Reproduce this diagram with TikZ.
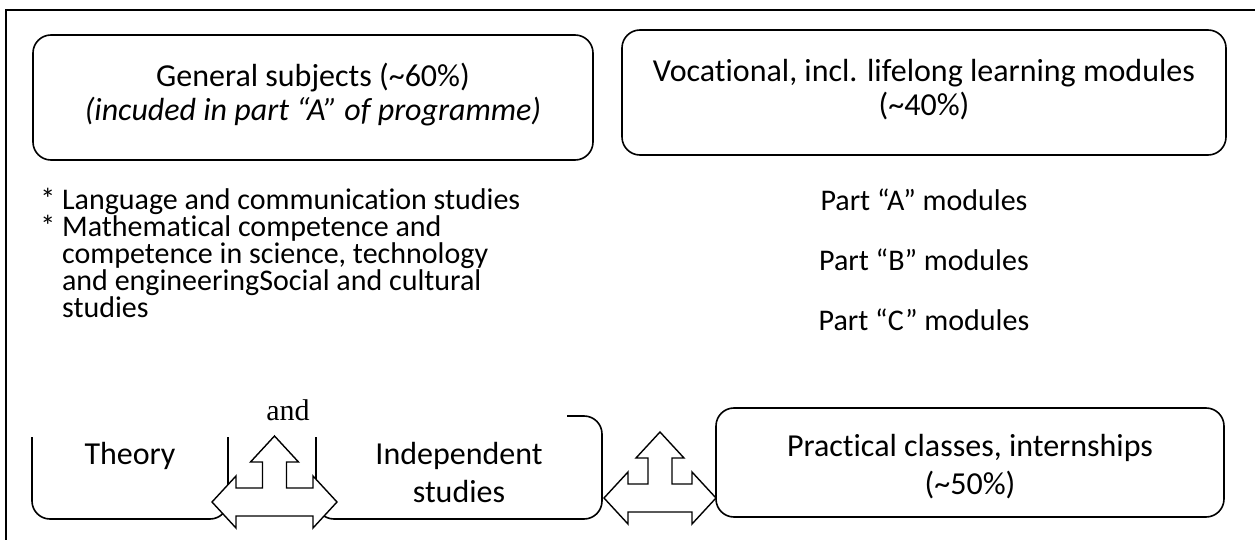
\documentclass[tikz,border=0pt]{standalone}
\usepackage{fontspec}
\setmainfont{Carlito}[Ligatures=NoCommon]
\newfontfamily\timesfont{Liberation Serif}
\usepackage{tikz}
\usetikzlibrary{calc}
\def\tarrow(#1,#2)[#3]{\draw[tshape] ({#1-#3},#2) -- ({#1-#3+24},{#2-26}) -- ({#1-#3+24},{#2-14}) -- ({#1-12},{#2-14}) -- ({#1-12},{#2-40}) -- ({#1-24},{#2-40}) -- (#1,{#2-66}) -- ({#1+24},{#2-40}) -- ({#1+12},{#2-40}) -- ({#1+12},{#2-14}) -- ({#1+#3-24},{#2-14}) -- ({#1+#3-24},{#2-26}) -- ({#1+#3},#2) -- ({#1+#3-24},{#2+26}) -- ({#1+#3-24},{#2+14}) -- ({#1-#3+24},{#2+14}) -- ({#1-#3+24},{#2+26}) -- cycle;}
\tikzset{
  box/.style={draw,line width=0.8pt,rounded corners=9pt},
  tshape/.style={draw,fill=white,line width=0.7pt,line join=miter},
  boxtext/.style={align=center,font=\fontsize{16}{17}\selectfont},
  lowtext/.style={align=center,font=\fontsize{16}{19}\selectfont},
  listtext/.style={align=left,font=\fontsize{15}{13.5}\selectfont,inner sep=0pt}
}
\begin{document}
\begin{tikzpicture}[x=0.5pt,y=-0.5pt]
	\useasboundingbox (0,0) rectangle (1255,540);
	%FRAME
	\draw[line width=1.2pt] (6,540)--(6,10)--(1255,10);
	%
	%TOP BOXES
	\draw[box] (33,35) rectangle (593,160);
	\node[boxtext] (general) at (313,95) {General subjects (\textasciitilde60\%)\\ \textit{(incuded in part “A” of programme)}};
	%
	\draw[box] (622,30) rectangle (1226,155);
	\node[boxtext] (vocational) at (924,90) {Vocational, incl. lifelong learning modules\\ (\textasciitilde40\%)};
	
	%LISTS
	\node[listtext,anchor=north west] (subjects) at (40,188) {* Language and communication studies\\ * Mathematical competence and\\ \hphantom{* }competence in science, technology\\ \hphantom{* }and engineeringSocial and cultural\\ \hphantom{* }studies};
	%
	\node[font=\fontsize{15}{17}\selectfont] (partA) at (924,200) {Part “A” modules};
	\node[font=\fontsize{15}{17}\selectfont] (partB) at (924,260) {Part “B” modules};
	\node[font=\fontsize{15}{17}\selectfont] (partC) at (924,320) {Part “C” modules};
	
	%BOTTOM BOXES
	\draw[box] (32,437)--(32,519)--(228,519)--(228,437);
	\node[lowtext] (theory) at (130,456) {Theory};
	%
	\draw[box] (567,416)--(602,416)--(602,519)--(316,519)--(316,437);
	\node[lowtext] (independent) at (459,473) {Independent\\ studies};
	%
	\draw[box] (716,408) rectangle (1224,517);
	\node[lowtext] (practical) at (970,467) {Practical classes, internships\\ (\textasciitilde50\%)};
	%
	\node[font=\timesfont\fontsize{15}{17}\selectfont] (and) at (288,410) {and};
	
	%ARROWS
	\tarrow(274.5,502)[62.5]
	\tarrow(660,498)[56]
\end{tikzpicture}
\end{document}
